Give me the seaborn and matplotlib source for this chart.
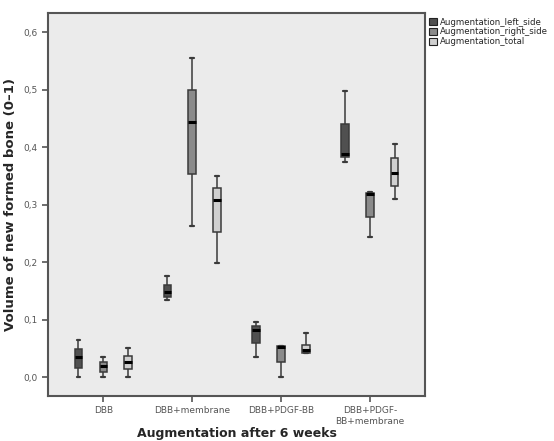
import numpy as np
import pandas as pd
import matplotlib
matplotlib.use("Agg")
import matplotlib.pyplot as plt
import seaborn as sns
from matplotlib.patches import Patch
from matplotlib.ticker import FuncFormatter

groups = ["DBB", "DBB+membrane", "DBB+PDGF-BB", "DBB+PDGF-\nBB+membrane"]
sides = ["Augmentation_left_side", "Augmentation_right_side", "Augmentation_total"]

# five-number summaries per group: min, q1, median, q3, max
left_side = [[0.000, 0.016, 0.035, 0.049, 0.064],
             [0.134, 0.139, 0.148, 0.160, 0.175],
             [0.035, 0.059, 0.082, 0.089, 0.096],
             [0.375, 0.382, 0.388, 0.441, 0.497]]
right_side = [[0.000, 0.009, 0.019, 0.026, 0.035],
              [0.263, 0.354, 0.443, 0.500, 0.555],
              [0.000, 0.026, 0.052, 0.054, 0.054],
              [0.244, 0.279, 0.318, 0.320, 0.322]]
total = [[0.000, 0.014, 0.026, 0.037, 0.050],
         [0.199, 0.253, 0.308, 0.329, 0.350],
         [0.042, 0.042, 0.047, 0.056, 0.077],
         [0.310, 0.333, 0.355, 0.381, 0.406]]

colors = ["#505050", "#8a8a8a", "#d0d0d0"]

rows = []
for side, series in zip(sides, [left_side, right_side, total]):
    for g, vals in zip(groups, series):
        for v in vals:
            rows.append((g, side, v))
df = pd.DataFrame(rows, columns=["group", "side", "volume"])

sns.set_style("ticks")
plt.rcParams['font.family'] = ['DejaVu Sans']

fig = plt.figure(figsize=(5.54, 4.41), dpi=100)
ax = fig.add_axes([0.087, 0.102, 0.68, 0.868])
ax.set_facecolor("#ebebeb")

sns.boxplot(data=df, x="group", y="volume", hue="side", order=groups, hue_order=sides,
            palette=colors, width=0.84, gap=0.7, whis=(0, 100), linecolor="#3a3a3a",
            linewidth=1.1, medianprops=dict(color="black", linewidth=2.2),
            capprops=dict(linewidth=1.6), legend=False, ax=ax)

ax.set_xlim(-0.62, 3.62)
ax.set_ylim(-0.033, 0.633)
ax.set_yticks([0, 0.1, 0.2, 0.3, 0.4, 0.5, 0.6])
ax.yaxis.set_major_formatter(FuncFormatter(lambda v, p: f"{v:.1f}".replace(".", ",")))
ax.tick_params(axis="both", labelsize=6.5, colors="#555555", length=4, width=1.2)
for s in ax.spines.values():
    s.set_color("#555555")
    s.set_linewidth(1.5)

ax.set_xlabel("Augmentation after 6 weeks", fontsize=9, fontweight="bold", labelpad=0.5)
ax.set_ylabel("Volume of new formed bone (0\u20131)", fontsize=9.5, fontweight="bold", labelpad=5)

handles = [Patch(facecolor=c, edgecolor="#222222", linewidth=0.8) for c in colors]
ax.legend(handles, sides, loc="upper left", bbox_to_anchor=(1.0, 1.0), frameon=False,
          fontsize=6.2, handlelength=0.9, handleheight=0.9, handletextpad=0.3,
          labelspacing=0.1, borderaxespad=0.3, borderpad=0.2)

fig.savefig("out.png", dpi=100)
